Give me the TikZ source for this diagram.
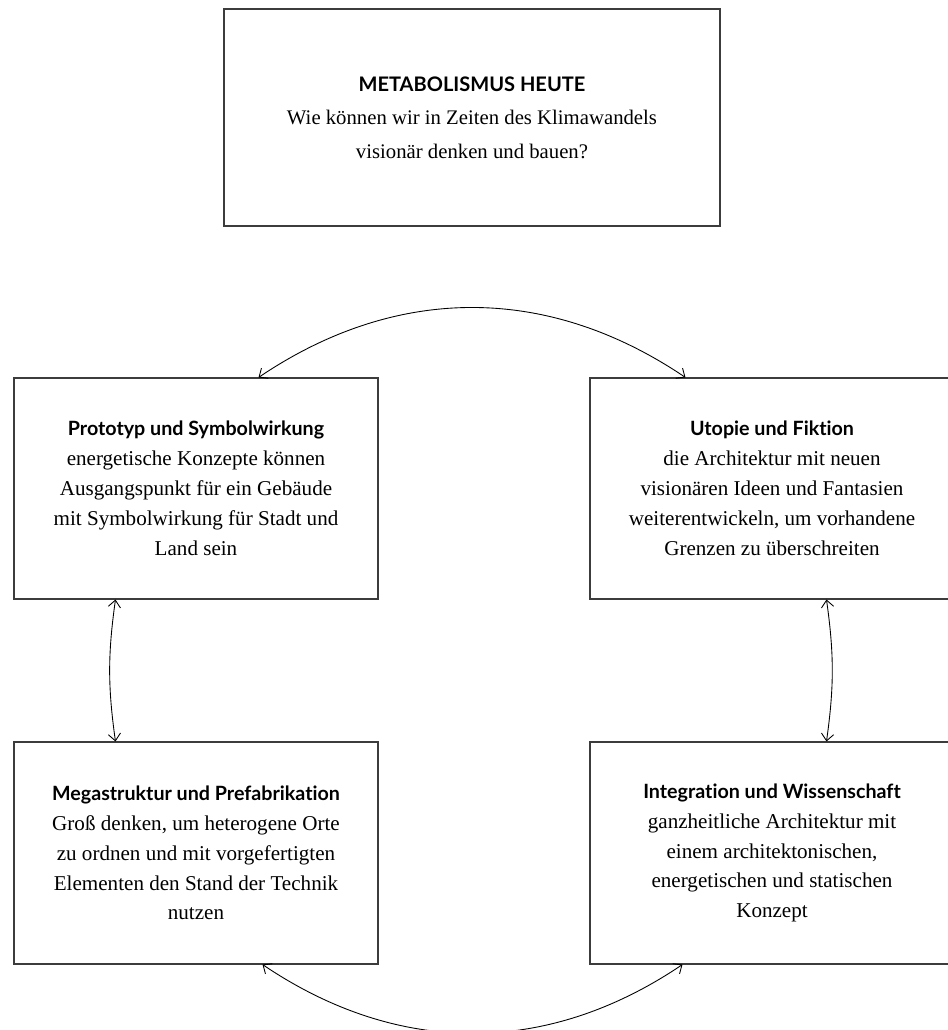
\documentclass[tikz,border=0pt]{standalone}
\usepackage{fontspec}
\setmainfont{Liberation Serif}
\newfontfamily\headfont{Lato}[Ligatures={NoCommon}]
\usetikzlibrary{positioning, arrows.meta, calc}
\definecolor{FrameGray}{RGB}{60, 60, 60}

\tikzset{
  themebox/.style={draw=FrameGray, line width=0.6pt, align=center, minimum width=7.28cm, minimum height=4.42cm, font=\fontsize{12}{17}\selectfont},
  cyclearrow/.style={line width=0.5pt, {Straight Barb[length=4pt,width=7pt]}-{Straight Barb[length=4pt,width=7pt]}}
}
\newcommand{\boxhead}[2][11.2]{{\headfont\bfseries\fontsize{#1}{17}\selectfont #2}}

\begin{document}
\begin{tikzpicture}
    \clip (0,0) rectangle (18.96,20.6);

    % Question
    \node[themebox, minimum width=9.92cm, minimum height=4.34cm, font=\fontsize{11.8}{19}\selectfont] (frage) at (9.44,18.25)
      {\boxhead[11.4]{METABOLISMUS HEUTE}\\ Wie können wir in Zeiten des Klimawandels\\ visionär denken und bauen?};

    % Four themes
    \node[themebox] (proto) at (3.92,10.83)
      {\boxhead{Prototyp und Symbolwirkung}\\ energetische Konzepte können\\ Ausgangspunkt für ein Gebäude\\ mit Symbolwirkung für Stadt und\\ Land sein};
    \node[themebox] (utopie) at (15.44,10.83)
      {\boxhead{Utopie und Fiktion}\\ die Architektur mit neuen\\ visionären Ideen und Fantasien\\ weiterentwickeln, um vorhandene\\ Grenzen zu überschreiten};
    \node[themebox, minimum height=4.44cm] (mega) at (3.92,3.54)
      {\boxhead{Megastruktur und Prefabrikation}\\ Groß denken, um heterogene Orte\\ zu ordnen und mit vorgefertigten\\ Elementen den Stand der Technik\\ nutzen};
    \node[themebox, minimum height=4.44cm] (integ) at (15.44,3.54)
      {\boxhead{Integration und Wissenschaft}\\ ganzheitliche Architektur mit\\ einem architektonischen,\\ energetischen und statischen\\ Konzept};

    % Arrow ends
    \coordinate (p1) at ([xshift=-2.4cm]proto.north east);
    \coordinate (u1) at ([xshift=1.92cm]utopie.north west);
    \coordinate (p2) at ([xshift=2.04cm]proto.south west);
    \coordinate (m1) at ([xshift=2.04cm]mega.north west);
    \coordinate (u2) at ([xshift=4.74cm]utopie.south west);
    \coordinate (i1) at ([xshift=4.74cm]integ.north west);
    \coordinate (m2) at ([xshift=-2.32cm]mega.south east);
    \coordinate (i2) at ([xshift=1.86cm]integ.south west);

    \draw[cyclearrow] (p1) to[bend left=34] (u1);
    \draw[cyclearrow] (p2) to[bend right=8] (m1);
    \draw[cyclearrow] (u2) to[bend left=8] (i1);
    \draw[cyclearrow] (m2) to[bend right=34] (i2);
\end{tikzpicture}
\end{document}
